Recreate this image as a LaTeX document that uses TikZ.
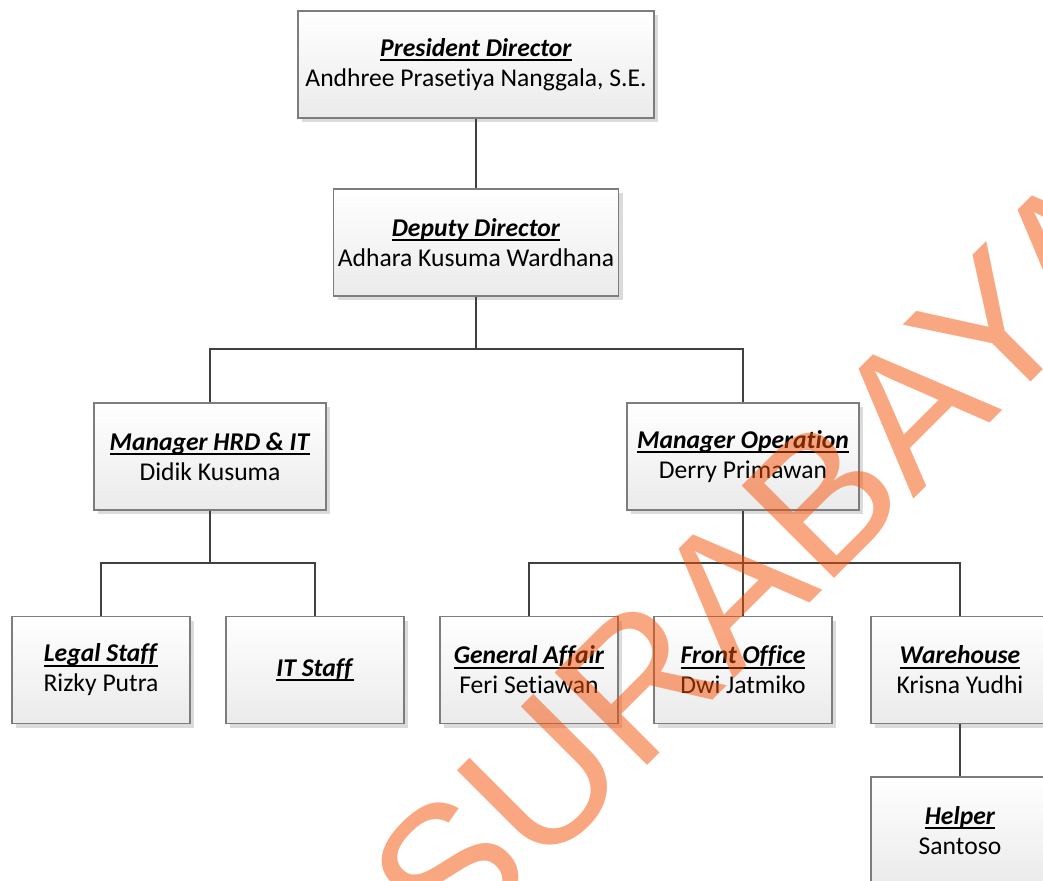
\documentclass[tikz,border=0pt]{standalone}
\usepackage{fontspec}
\setmainfont{Carlito}[Ligatures=NoCommon]
\newfontfamily\wmfont{Liberation Sans}
\usetikzlibrary{shadows}
\definecolor{boxline}{RGB}{125,125,125}
\definecolor{connline}{RGB}{64,64,64}
\definecolor{wmorange}{RGB}{245,80,5}
\newcommand{\uline}[1]{\setbox0\hbox{#1}\rlap{\vrule height -1.4pt depth 2.3pt width \wd0}\box0}
\newcommand{\role}[2]{\uline{\textbf{\textit{#1}}}\\#2}
\tikzset{
  orgbox/.style={draw=boxline, line width=0.6pt, top color=white, bottom color=black!8,
    drop shadow={shadow xshift=2pt, shadow yshift=-2pt, fill=black!14, opacity=1},
    align=center, minimum height=53.5pt, inner sep=0pt},
  conn/.style={draw=connline, line width=1pt},
  wmark/.style={font=\wmfont\fontsize{95}{95}\selectfont, text=wmorange, text opacity=0.5, rotate=45, inner sep=0pt, anchor=base west}
}
\begin{document}
\begin{tikzpicture}[x=0.5pt, y=-0.5pt, every node/.style={font=\fontsize{12.8}{15}\selectfont}]
  \useasboundingbox[fill=white] (0,0) rectangle (1043,880);
  % top of the chart
  \node[orgbox, minimum width=178pt] (pres) at (476,64.5) {\role{President Director}{Andhree Prasetiya Nanggala, S.E.}};
  \node[orgbox, minimum width=142.5pt] (dep) at (476,242.5) {\role{Deputy Director}{Adhara Kusuma Wardhana}};
  \node[orgbox, minimum width=116pt] (hrd) at (210,456.5) {\role{Manager HRD \& IT}{Didik Kusuma}};
  \node[orgbox, minimum width=116pt] (ops) at (743,456.5) {\role{Manager Operation}{Derry Primawan}};
  % staff row
  \foreach \name/\x/\y/\lab in {legal/101/670/{\role{Legal Staff}{Rizky Putra}}, it/315/670/{\uline{\textbf{\textit{IT Staff}}}},
      ga/529/670/{\role{General Affair}{Feri Setiawan}}, fo/743/670/{\role{Front Office}{Dwi Jatmiko}},
      wh/960/670/{\role{Warehouse}{Krisna Yudhi}}, help/960/830.5/{\role{Helper}{Santoso}}} {
    \node[orgbox, minimum width=89pt] (\name) at (\x,\y) {\lab};
  }
  \coordinate (bus1) at (476,349);
  \coordinate (bus2) at (210,563);
  \coordinate (bus3) at (743,563);
  \draw[conn] (pres) -- (dep);
  \draw[conn] (dep) -- (bus1) -| (hrd);
  \draw[conn] (bus1) -| (ops);
  \draw[conn] (hrd) -- (bus2) -| (legal);
  \draw[conn] (bus2) -| (it);
  \draw[conn] (ops) -- (fo);
  \draw[conn] (bus3) -| (ga);
  \draw[conn] (bus3) -| (wh);
  \draw[conn] (wh) -- (help);
  % watermark
  \node[wmark] (stamp) at (450,963) {SURABAYA};
\end{tikzpicture}
\end{document}
